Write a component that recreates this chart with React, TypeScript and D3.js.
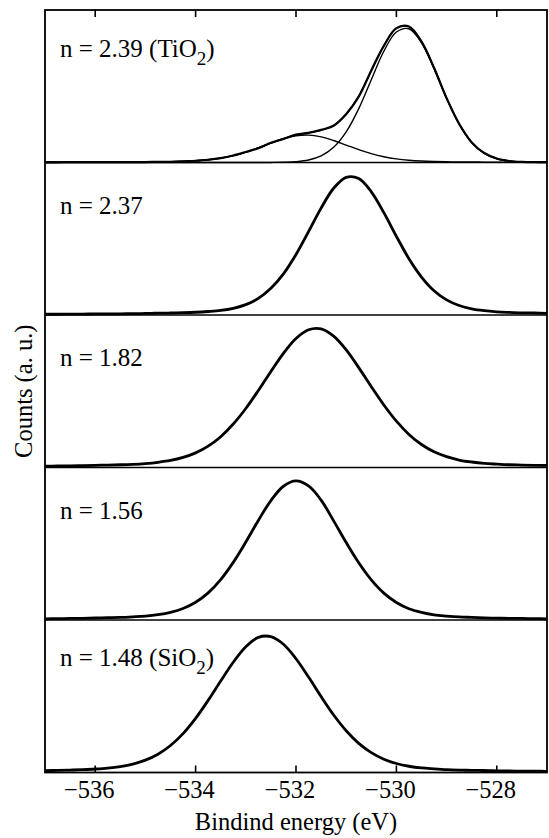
import React from "react";
import * as d3 from "d3";

// O 1s binding energy grid (eV), shared by every spectrum
const energy = [
  -537, -536.75, -536.5, -536.25, -536, -535.75, -535.5, -535.25, -535, -534.75,
  -534.5, -534.25, -534, -533.75, -533.5, -533.25, -533, -532.75, -532.5, -532.25,
  -532, -531.75, -531.5, -531.25, -531, -530.75, -530.5, -530.25, -530, -529.75,
  -529.5, -529.25, -529, -528.75, -528.5, -528.25, -528, -527.75, -527.5, -527.25,
  -527,
];

// n = 2.39 (TiO2): measured spectrum and its two fitted components
const tio2Measured = [
  0.1, 0.1, 0.2, 0.2, 0.2, 0.2, 0.3, 0.3, 0.3, 0.4,
  0.5, 0.8, 1.1, 1.8, 2.9, 4.6, 6.9, 9.4, 12.9, 15.5,
  18.3, 19.4, 21.4, 24.1, 31.8, 43.2, 60.4, 76.5, 88.1, 89.2,
  79.3, 62.1, 42.2, 25.4, 13.2, 6.2, 2.6, 1.0, 0.4, 0.2,
  0.2,
];
const tio2Lattice = [
  0, 0, 0, 0, 0, 0, 0, 0, 0, 0,
  0, 0, 0, 0, 0, 0, 0, 0.01, 0.04, 0.16,
  0.54, 1.63, 4.31, 9.94, 20.05, 35.3, 54.31, 72.94, 85.58, 87.69,
  78.48, 61.34, 41.87, 24.97, 13.01, 5.92, 2.35, 0.81, 0.25, 0.07,
  0.02,
];
const tio2Shoulder = [
  0.13, 0.14, 0.16, 0.17, 0.19, 0.22, 0.25, 0.28, 0.33, 0.41,
  0.53, 0.74, 1.12, 1.78, 2.87, 4.51, 6.78, 9.6, 12.67, 15.51,
  17.47, 17.96, 16.83, 14.44, 11.44, 8.42, 5.8, 3.78, 2.37, 1.47,
  0.94, 0.64, 0.47, 0.36, 0.31, 0.26, 0.23, 0.21, 0.18, 0.17,
  0.15,
];

// single-peak spectra of the mixed films
const n237 = [
  0.5, 0.5, 0.6, 0.6, 0.7, 0.7, 0.8, 0.9, 1.0, 1.2,
  1.3, 1.5, 1.8, 2.3, 3.0, 4.4, 6.8, 10.9, 17.5, 27.0,
  39.7, 54.7, 70.1, 83.1, 90.3, 89.5, 80.8, 67.1, 51.6, 36.9,
  24.9, 15.9, 9.9, 6.2, 4.0, 2.8, 2.1, 1.7, 1.4, 1.3,
  1.1,
];
const n182 = [
  0.9, 1.0, 1.1, 1.2, 1.4, 1.6, 1.8, 2.1, 2.6, 3.4,
  4.6, 6.6, 9.6, 14.0, 20.2, 28.5, 38.7, 50.5, 63.0, 74.9,
  84.6, 90.3, 90.9, 86.1, 77.1, 65.5, 53.0, 41.0, 30.4, 21.7,
  15.1, 10.3, 7.1, 4.9, 3.6, 2.7, 2.2, 1.8, 1.6, 1.4,
  1.3,
];
const n156 = [
  0.8, 0.9, 1.0, 1.1, 1.3, 1.5, 1.7, 2.1, 2.6, 3.5,
  5.0, 7.5, 11.6, 17.8, 26.5, 37.8, 51.1, 65.3, 78.3, 87.7,
  91.2, 87.9, 78.6, 65.0, 50.8, 37.5, 26.3, 17.6, 11.5, 7.4,
  5.0, 3.4, 2.6, 2.0, 1.7, 1.4, 1.2, 1.1, 1.0, 0.9,
  0.8,
];
const sio2 = [
  1.2, 1.4, 1.6, 1.9, 2.3, 2.9, 3.9, 5.5, 8.1, 12.0,
  17.7, 25.5, 35.5, 47.3, 60.0, 72.3, 82.5, 88.6, 89.1, 84.1,
  74.6, 62.6, 49.8, 37.7, 27.4, 19.1, 13.0, 8.7, 5.9, 4.1,
  3.0, 2.4, 1.9, 1.6, 1.4, 1.3, 1.1, 1.0, 0.9, 0.9,
  0.8,
];

const panelIndex = ["2.39", "2.37", "1.82", "1.56", "1.48"];
const panelCompound = ["TiO", "", "", "", "SiO"];
const panelSpectra = [tio2Measured, n237, n182, n156, sio2];

const energyTicks = [-536, -534, -532, -530, -528];
const energyDomain = [-537, -527];

const xTitle = "Bindind energy (eV)";
const yTitle = "Counts (a. u.)";

// layout
const WIDTH = 549;
const HEIGHT = 838;
const LEFT = 45;
const RIGHT = 547;
const TOP = 10;
const BOTTOM = 772.5;
const FONT = "Liberation Serif, DejaVu Serif, serif";
const LABEL_OFFSET = [47, 51, 51, 51, 46];
// digits sit centred under each tick; the minus sign hangs to the left
const TICK_LABEL_SHIFT = -6;

export default function App() {
  const x = d3.scaleLinear().domain(energyDomain).range([LEFT, RIGHT]);
  const band = d3
    .scaleBand<number>()
    .domain(d3.range(panelSpectra.length))
    .range([TOP, BOTTOM])
    .padding(0);
  const ph = band.bandwidth();
  const fmt = d3.format("d");

  const lineFor = (y: d3.ScaleLinear<number, number>) =>
    d3
      .line<number>()
      .x((_, i) => x(energy[i]))
      .y((v) => y(v))
      .curve(d3.curveCatmullRom.alpha(0.5));

  const fitTotal = tio2Lattice.map((v, i) => v + tio2Shoulder[i]);
  const textStyle = { fontFamily: FONT };

  return (
    <svg
      width={WIDTH}
      height={HEIGHT}
      style={{ position: "absolute", left: 0, top: 0, background: "#fff" }}
    >
      <rect x={0} y={0} width={WIDTH} height={HEIGHT} fill="#fff" />
      {panelSpectra.map((series, p) => {
        const top = band(p) as number;
        const y = d3.scaleLinear().domain([0, 100]).range([top + ph, top]);
        const line = lineFor(y);
        return (
          <g key={p}>
            {p === 0 && (
              <g fill="none" stroke="#000" strokeWidth={1.4} strokeLinejoin="round">
                <path d={line(tio2Lattice) || ""} />
                <path d={line(tio2Shoulder) || ""} />
                <path d={line(fitTotal) || ""} />
              </g>
            )}
            <path
              d={line(series) || ""}
              fill="none"
              stroke="#000"
              strokeWidth={p === 0 ? 2.2 : 2.8}
              strokeLinejoin="round"
            />
            <text x={60} y={top + LABEL_OFFSET[p]} fontSize={25} fill="#000" style={textStyle}>
              {`n = ${panelIndex[p]}`}
              {panelCompound[p] && (
                <>
                  <tspan>{` (${panelCompound[p]}`}</tspan>
                  <tspan fontSize={19} dy={8}>2</tspan>
                  <tspan dy={-8}>)</tspan>
                </>
              )}
            </text>
            {p > 0 && (
              <line x1={LEFT} x2={RIGHT} y1={top} y2={top} stroke="#000" strokeWidth={1.6} />
            )}
          </g>
        );
      })}

      {/* outer frame */}
      <rect
        x={LEFT}
        y={TOP}
        width={RIGHT - LEFT}
        height={BOTTOM - TOP}
        fill="none"
        stroke="#000"
        strokeWidth={1.8}
      />

      {/* energy ticks, drawn inward on top and bottom edges */}
      {energyTicks.map((t) => (
        <g key={t}>
          <line x1={x(t)} x2={x(t)} y1={BOTTOM} y2={BOTTOM - 7} stroke="#000" strokeWidth={1.6} />
          <line x1={x(t)} x2={x(t)} y1={TOP} y2={TOP + 7} stroke="#000" strokeWidth={1.6} />
          <text
            x={x(t) + TICK_LABEL_SHIFT}
            y={798}
            fontSize={24.5}
            textAnchor="middle"
            fill="#000"
            style={textStyle}
          >
            {fmt(t)}
          </text>
        </g>
      ))}

      <text
        x={(LEFT + RIGHT) / 2}
        y={830}
        fontSize={24.5}
        textAnchor="middle"
        fill="#000"
        style={textStyle}
      >
        {xTitle}
      </text>
      <text
        transform={`translate(32, ${(TOP + BOTTOM) / 2}) rotate(-90)`}
        fontSize={24.5}
        textAnchor="middle"
        fill="#000"
        style={textStyle}
      >
        {yTitle}
      </text>
    </svg>
  );
}
